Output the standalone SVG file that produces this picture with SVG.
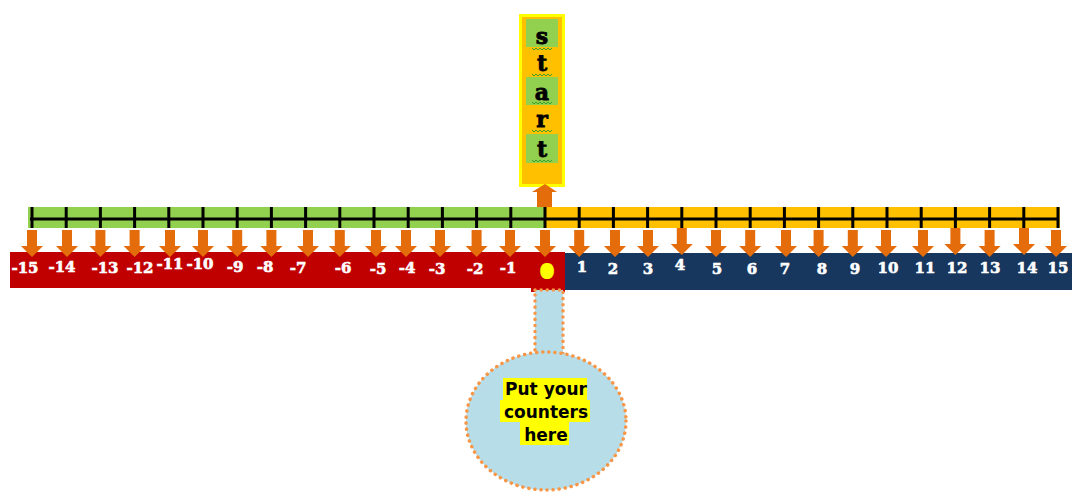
<svg xmlns="http://www.w3.org/2000/svg" xmlns:xlink="http://www.w3.org/1999/xlink" width="1072" height="493" viewBox="0 0 1072 493">
  <style>
    .num { font-family: "DejaVu Serif", "Liberation Serif", serif; font-weight: bold; font-size: 15px; fill: #ffffff; stroke: #ffffff; stroke-width: 0.6; text-anchor: middle; }
    .letter { font-family: "DejaVu Serif", "Liberation Serif", serif; font-weight: bold; font-size: 22px; fill: #000000; stroke: #000000; stroke-width: 0.8; text-anchor: middle; }
    .note { font-family: "DejaVu Sans", "Liberation Sans", sans-serif; font-weight: bold; font-size: 17px; fill: #000000; text-anchor: middle; }
    .tick { stroke: #000000; stroke-width: 3; }
    .arrow { fill: #e46c0a; }
    .squiggle { fill: none; stroke: #3aa02a; stroke-width: 1; }
    .dotted { stroke: #f79646; stroke-width: 3.5; stroke-dasharray: 0.1 6; stroke-linecap: round; }
  </style>
  <defs>
    <!-- downward arrow under each tick, centred on x=0 -->
    <path id="dn" class="arrow" d="M-5,230 H5 V246 H11 L0,257 L-11,246 H-5 Z"/>
    <path id="wave" class="squiggle" d="M0,0 l2,2 l2,-2 l2,2 l2,-2 l2,2 l2,-2 l2,2 l2,-2 l2,2 l2,-2"/>
  </defs>

  <!-- start sign -->
  <g id="start">
    <rect x="520.5" y="15.5" width="43" height="170" fill="#ffc000" stroke="#ffff00" stroke-width="3"/>
    <rect x="526" y="19" width="32" height="28" fill="#92d050"/>
    <rect x="526" y="77" width="32" height="28" fill="#92d050"/>
    <rect x="526" y="134" width="32" height="29" fill="#92d050"/>
    <text class="letter" x="542" y="44">s</text>
    <text class="letter" x="542" y="71">t</text>
    <text class="letter" x="542" y="100">a</text>
    <text class="letter" x="542" y="127">r</text>
    <text class="letter" x="542" y="157">t</text>
    <use href="#wave" x="532" y="48"/>
    <use href="#wave" x="532" y="74"/>
    <use href="#wave" x="532" y="102"/>
    <use href="#wave" x="532" y="130"/>
    <use href="#wave" x="532" y="160"/>
  </g>

  <!-- number line bar -->
  <g id="number-line">
    <rect x="28" y="207" width="518" height="21" fill="#92d050"/>
    <rect x="546" y="207" width="514" height="21" fill="#ffc000"/>
    <line class="tick" x1="30" y1="219" x2="1059" y2="219"/>
    <g class="tick">
      <line x1="32" y1="207" x2="32" y2="228"/>
      <line x1="66.2" y1="207" x2="66.2" y2="228"/>
      <line x1="100.4" y1="207" x2="100.4" y2="228"/>
      <line x1="134.6" y1="207" x2="134.6" y2="228"/>
      <line x1="168.8" y1="207" x2="168.8" y2="228"/>
      <line x1="203" y1="207" x2="203" y2="228"/>
      <line x1="237.2" y1="207" x2="237.2" y2="228"/>
      <line x1="271.4" y1="207" x2="271.4" y2="228"/>
      <line x1="305.6" y1="207" x2="305.6" y2="228"/>
      <line x1="339.8" y1="207" x2="339.8" y2="228"/>
      <line x1="374" y1="207" x2="374" y2="228"/>
      <line x1="408.2" y1="207" x2="408.2" y2="228"/>
      <line x1="442.4" y1="207" x2="442.4" y2="228"/>
      <line x1="476.6" y1="207" x2="476.6" y2="228"/>
      <line x1="510.8" y1="207" x2="510.8" y2="228"/>
      <line x1="545" y1="207" x2="545" y2="228"/>
      <line x1="579.2" y1="207" x2="579.2" y2="228"/>
      <line x1="613.4" y1="207" x2="613.4" y2="228"/>
      <line x1="647.6" y1="207" x2="647.6" y2="228"/>
      <line x1="681.8" y1="207" x2="681.8" y2="228"/>
      <line x1="716" y1="207" x2="716" y2="228"/>
      <line x1="750.2" y1="207" x2="750.2" y2="228"/>
      <line x1="784.4" y1="207" x2="784.4" y2="228"/>
      <line x1="818.6" y1="207" x2="818.6" y2="228"/>
      <line x1="852.8" y1="207" x2="852.8" y2="228"/>
      <line x1="887" y1="207" x2="887" y2="228"/>
      <line x1="921.2" y1="207" x2="921.2" y2="228"/>
      <line x1="955.4" y1="207" x2="955.4" y2="228"/>
      <line x1="989.6" y1="207" x2="989.6" y2="228"/>
      <line x1="1023.8" y1="207" x2="1023.8" y2="228"/>
      <line x1="1058" y1="207" x2="1058" y2="228"/>
    </g>
  </g>

  <!-- label strips -->
  <g id="negatives">
    <rect x="10" y="252" width="555" height="36" fill="#c00000"/>
    <rect x="531" y="286" width="34" height="6" fill="#c00000"/>
    <text class="num" x="25" y="273">-15</text>
    <text class="num" x="62" y="272">-14</text>
    <text class="num" x="105" y="273">-13</text>
    <text class="num" x="140" y="273">-12</text>
    <text class="num" x="170" y="269">-11</text>
    <text class="num" x="200" y="269">-10</text>
    <text class="num" x="235" y="272">-9</text>
    <text class="num" x="265" y="272">-8</text>
    <text class="num" x="298" y="273">-7</text>
    <text class="num" x="343" y="273">-6</text>
    <text class="num" x="378" y="274">-5</text>
    <text class="num" x="407" y="273">-4</text>
    <text class="num" x="437" y="274">-3</text>
    <text class="num" x="475" y="274">-2</text>
    <text class="num" x="508" y="273">-1</text>
    <text class="num" x="547" y="277" style="fill:#ffff00;stroke:#ffff00;stroke-width:4;font-size:16px">0</text>
  </g>
  <g id="positives">
    <rect x="565" y="253" width="507" height="37" fill="#17375e"/>
    <text class="num" x="582" y="272">1</text>
    <text class="num" x="613" y="274">2</text>
    <text class="num" x="648" y="274">3</text>
    <text class="num" x="680" y="270">4</text>
    <text class="num" x="717" y="274">5</text>
    <text class="num" x="752" y="274">6</text>
    <text class="num" x="785" y="274">7</text>
    <text class="num" x="822" y="274">8</text>
    <text class="num" x="855" y="274">9</text>
    <text class="num" x="888" y="273">10</text>
    <text class="num" x="925" y="273">11</text>
    <text class="num" x="957" y="273">12</text>
    <text class="num" x="990" y="273">13</text>
    <text class="num" x="1027" y="273">14</text>
    <text class="num" x="1058" y="273">15</text>
  </g>

  <!-- counters pocket -->
  <g id="pocket">
    <rect x="535" y="290" width="28" height="66" fill="#b7dde8"/>
    <rect x="535" y="290" width="28" height="66" fill="none" class="dotted"/>
    <ellipse cx="546" cy="421" rx="80" ry="69" fill="#b7dde8" class="dotted"/>
    <rect x="503" y="378" width="84" height="22" fill="#ffff00"/>
    <rect x="500" y="400" width="90" height="22" fill="#ffff00"/>
    <rect x="520" y="422" width="49" height="23" fill="#ffff00"/>
    <text class="note" x="546" y="395">Put your</text>
    <text class="note" x="546" y="418">counters</text>
    <text class="note" x="546" y="441">here</text>
  </g>

  <!-- arrows -->
  <g id="connectors">
    <path class="arrow" d="M537,207 V192 H532 L545,184 L557,192 H552 V207 Z"/>
    <use href="#dn" x="32"/>
    <use href="#dn" x="67"/>
    <use href="#dn" x="100.4"/>
    <use href="#dn" x="134.6"/>
    <use href="#dn" x="170"/>
    <use href="#dn" x="203"/>
    <use href="#dn" x="237.2"/>
    <use href="#dn" x="271.4"/>
    <use href="#dn" x="308"/>
    <use href="#dn" x="339.8"/>
    <use href="#dn" x="376"/>
    <use href="#dn" x="406"/>
    <use href="#dn" x="440"/>
    <use href="#dn" x="476.6"/>
    <use href="#dn" x="510"/>
    <use href="#dn" x="545"/>
    <use href="#dn" x="579.2"/>
    <use href="#dn" x="615"/>
    <use href="#dn" x="648"/>
    <use href="#dn" x="681.8" y="-2"/>
    <use href="#dn" x="716"/>
    <use href="#dn" x="750.2"/>
    <use href="#dn" x="786"/>
    <use href="#dn" x="818.6"/>
    <use href="#dn" x="852.8"/>
    <use href="#dn" x="886"/>
    <use href="#dn" x="923"/>
    <use href="#dn" x="955.4" y="-2"/>
    <use href="#dn" x="989.6"/>
    <use href="#dn" x="1024" y="-2"/>
    <use href="#dn" x="1056"/>
  </g>
</svg>
